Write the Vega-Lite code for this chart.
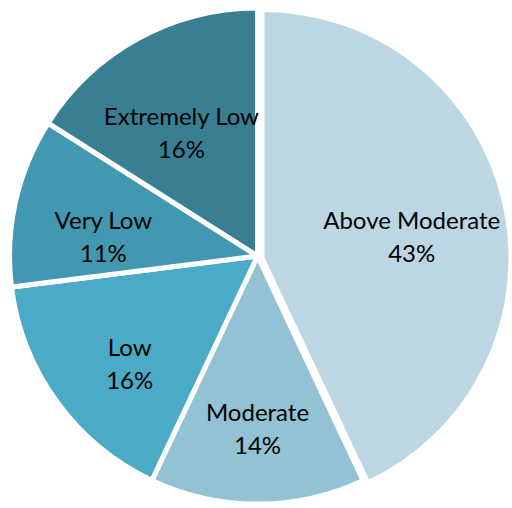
{
  "$schema": "https://vega.github.io/schema/vega-lite/v6.json",
  "width": 512,
  "height": 508,
  "autosize": {"type": "fit", "contains": "padding"},
  "padding": {"left": 7, "top": 4, "right": 1, "bottom": 0},
  "background": "white",
  "view": {"stroke": null},
  "data": {
    "values": [
      {"category": "Above Moderate", "value": 43, "rank": 1},
      {"category": "Moderate", "value": 14, "rank": 2},
      {"category": "Low", "value": 16, "rank": 3},
      {"category": "Very Low", "value": 11, "rank": 4},
      {"category": "Extremely Low", "value": 16, "rank": 5}
    ]
  },
  "transform": [
    {"calculate": "[datum.category, datum.value + '%']", "as": "label"}
  ],
  "encoding": {
    "theta": {"field": "value", "type": "quantitative", "stack": true},
    "order": {"field": "rank", "type": "quantitative", "sort": "ascending"},
    "color": {
      "field": "category",
      "type": "nominal",
      "legend": null,
      "scale": {
        "domain": ["Above Moderate", "Moderate", "Low", "Very Low", "Extremely Low"],
        "range": ["#BCD7E3", "#93C2D4", "#4BABC6", "#4298B0", "#387F93"]
      }
    }
  },
  "layer": [
    {
      "mark": {"type": "arc", "outerRadius": 248, "stroke": "white", "strokeWidth": 5},
      "encoding": {
        "opacity": {
          "condition": {"test": "datum.category === 'Above Moderate'", "value": 0},
          "value": 1
        }
      }
    },
    {
      "mark": {"type": "arc", "outerRadius": 248, "stroke": "white", "strokeWidth": 4, "xOffset": 5, "yOffset": 2},
      "encoding": {
        "opacity": {
          "condition": {"test": "datum.category === 'Above Moderate'", "value": 1},
          "value": 0
        }
      }
    },
    {
      "mark": {
        "type": "text",
        "radius": 158,
        "font": "Lato",
        "fontSize": 24,
        "lineHeight": 33,
        "color": "black",
        "align": "center",
        "baseline": "middle"
      },
      "encoding": {
        "text": {"field": "label"},
        "color": {"value": "black"}
      }
    }
  ]
}
